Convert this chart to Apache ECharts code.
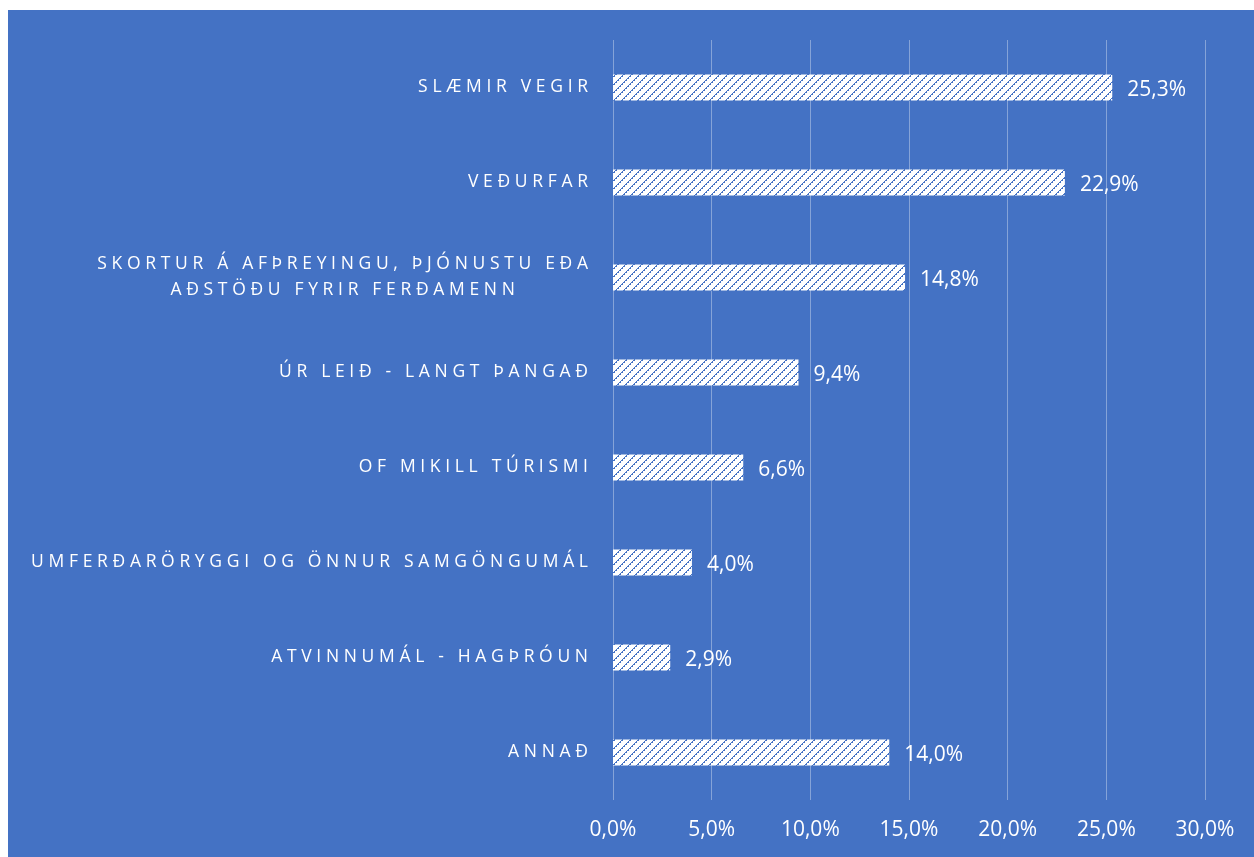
<!DOCTYPE html>
<html>
<head>
<meta charset="utf-8">
<script src="https://cdn.jsdelivr.net/npm/echarts@6/dist/echarts.min.js"></script>
<style>
  html, body { margin: 0; padding: 0; background: #fff; }
  #chart { position: absolute; left: 8px; top: 10px; width: 1246px; height: 847px; }
</style>
</head>
<body>
<div id="chart"></div>
<script>
const categories = [
  'SLÆMIR VEGIR',
  'VEÐURFAR',
  'SKORTUR Á AFÞREYINGU, ÞJÓNUSTU EÐA\nAÐSTÖÐU FYRIR FERÐAMENN',
  'ÚR LEIÐ - LANGT ÞANGAÐ',
  'OF MIKILL TÚRISMI',
  'UMFERÐARÖRYGGI OG ÖNNUR SAMGÖNGUMÁL',
  'ATVINNUMÁL - HAGÞRÓUN',
  'ANNAÐ'
];
const values = [25.3, 22.9, 14.8, 9.4, 6.6, 4.0, 2.9, 14.0];
const xTicks = [0, 5, 10, 15, 20, 25, 30];

const BLUE = '#4472C4';
const GAP = '\u2006\u200A'; // letter spacing

function spaced(s) {
  return s.split('').join(GAP);
}
function pct(v) {
  return v.toFixed(1).replace('.', ',') + '%';
}

// hatch pattern (white with blue diagonals)
const pat = document.createElement('canvas');
pat.width = 8; pat.height = 8;
const ctx = pat.getContext('2d');
ctx.fillStyle = '#fff';
ctx.fillRect(0, 0, 8, 8);
ctx.fillStyle = BLUE;
for (let i = 0; i < 8; i++) {
  const x = 7 - i;
  ctx.fillRect(x, i, 1, 1);
  if (i % 2 === 0) ctx.fillRect((x + 1) % 8, i, 1, 1);
}

const chart = echarts.init(document.getElementById('chart'));
const labelFont = { fontFamily: 'Open Sans', fontSize: 17.5, color: '#fff' };

chart.setOption({
  backgroundColor: BLUE,
  textStyle: { fontFamily: 'Open Sans' },
  grid: { left: 605, right: 49, top: 30, bottom: 57 },
  xAxis: {
    type: 'value',
    min: 0,
    max: 30,
    interval: 5,
    axisLine: { show: false },
    axisTick: { show: false },
    splitLine: { lineStyle: { color: 'rgba(255,255,255,0.35)', width: 1 } },
    axisLabel: {
      color: '#fff',
      fontSize: 21,
      fontFamily: 'Open Sans',
      margin: 20,
      formatter: v => xTicks.includes(v) ? pct(v) : ''
    }
  },
  yAxis: {
    type: 'category',
    inverse: true,
    data: categories,
    axisLine: { show: false },
    axisTick: { show: false },
    axisLabel: Object.assign({
      margin: 25,
      lineHeight: 26,
      formatter: v => {
        if (v.indexOf('\n') >= 0) {
          return v.split('\n').map(l => '{c|' + spaced(l) + '}').join('\n');
        }
        return spaced(v);
      },
      rich: {
        c: Object.assign({ align: 'center', lineHeight: 26 }, labelFont)
      }
    }, labelFont)
  },
  series: [{
    type: 'bar',
    data: values,
    barWidth: 26,
    itemStyle: { color: { image: pat, repeat: 'repeat' } },
    label: {
      show: true,
      position: 'right',
      distance: 15,
      offset: [0, 3],
      color: '#fff',
      fontSize: 21,
      fontFamily: 'Open Sans',
      formatter: p => pct(p.value)
    }
  }]
});
</script>
</body>
</html>
